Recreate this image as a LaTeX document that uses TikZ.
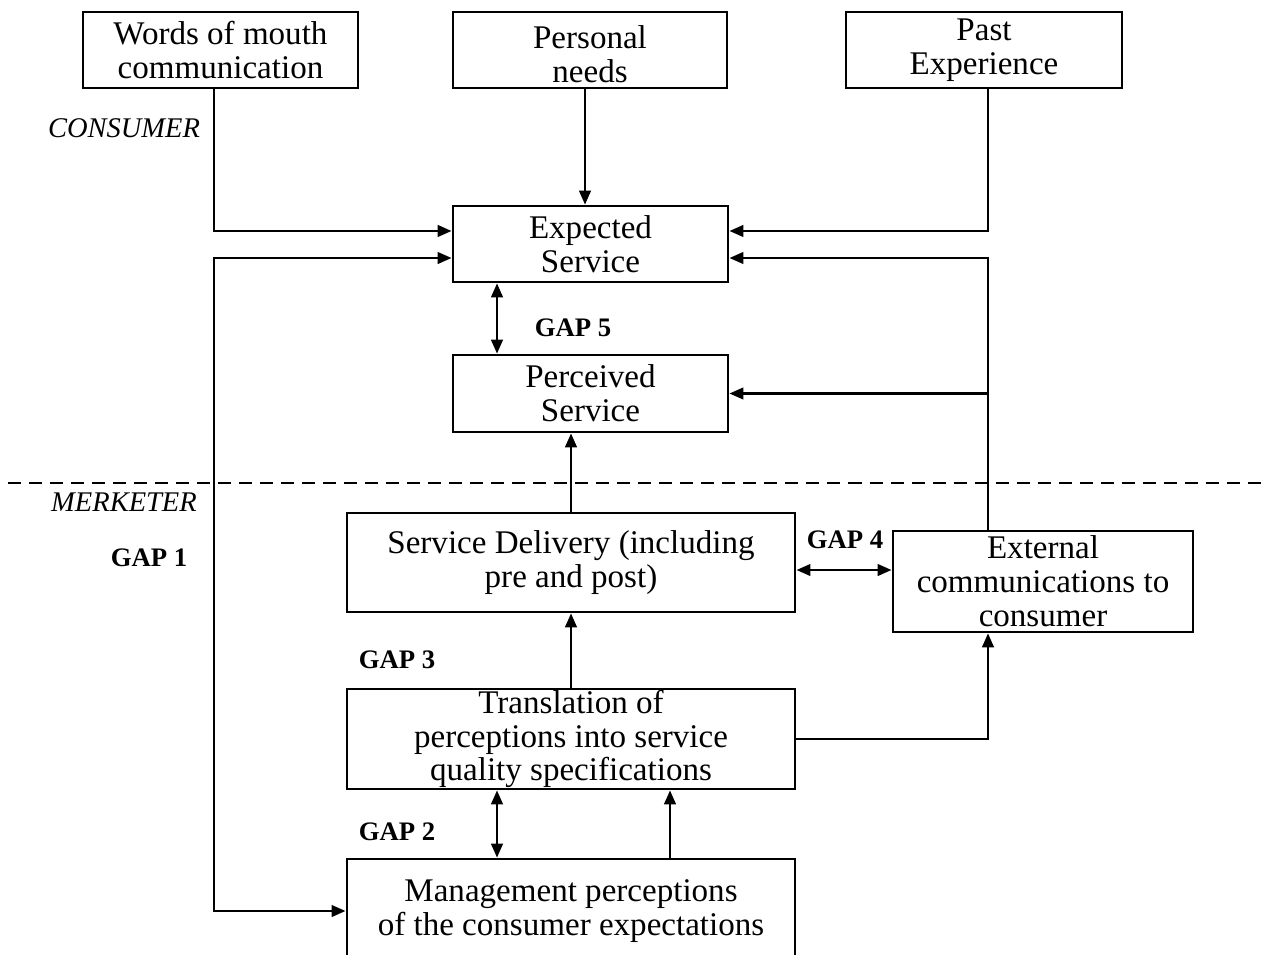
\documentclass[tikz,border=0pt]{standalone}
\usepackage{fontspec}
\setmainfont{Liberation Serif}
\usetikzlibrary{arrows.meta}
\begin{document}
\begin{tikzpicture}[x=0.01cm,y=-0.01cm,line width=0.75pt,
  >={Triangle[length=1.4mm,width=1.15mm]},
  font=\fontsize{9.4}{9.64}\selectfont,
  block/.style={draw,align=center,inner sep=0pt},
  gaplabel/.style={font=\fontsize{7.6}{8}\selectfont\bfseries},
  side/.style={font=\fontsize{8.1}{9}\selectfont\itshape}]
\useasboundingbox (0,0) rectangle (1264,955);
\node[block,minimum width=2.75cm,minimum height=0.76cm] (words) at (220.5,50) {Words of mouth\\communication};
\node[block,minimum width=2.74cm,minimum height=0.76cm] (personal) at (590,50) {\rule{0pt}{9pt}Personal\\needs};
\node[block,minimum width=2.76cm,minimum height=0.76cm] (past) at (984,50) {Past\\Experience};
\node[block,minimum width=2.75cm,minimum height=0.76cm] (expected) at (590.5,244) {Expected\\Service};
\node[block,minimum width=2.75cm,minimum height=0.77cm] (perceived) at (590.5,393.5) {Perceived\\Service};
\node[block,minimum width=4.48cm,minimum height=0.99cm] (delivery) at (571,562.5) {Service Delivery (including\\pre and post)};
\node[block,minimum width=3.00cm,minimum height=1.01cm] (external) at (1043,581.5) {External\\communications to\\consumer};
\node[block,minimum width=4.48cm,minimum height=1.00cm] (translation) at (571,739) {Translation of\\perceptions into service\\quality specifications};
\node[block,minimum width=4.48cm,minimum height=1.04cm] (management) at (571,911) {Management perceptions\\of the consumer expectations};
\node[side] (consumer) at (124,128) {CONSUMER};
\node[side] (marketer) at (124,502) {MERKETER};
\node[gaplabel] (gap1) at (149,558) {GAP 1};
\node[gaplabel] (gap5) at (573,328) {GAP 5};
\node[gaplabel] (gap4) at (845,540) {GAP 4};
\node[gaplabel] (gap3) at (397,660) {GAP 3};
\node[gaplabel] (gap2) at (397,832) {GAP 2};
\coordinate (lcol) at (214,0);
\coordinate (rcol) at (988,0);
\coordinate (gcol) at (497,0);
\coordinate (mcol) at (670,0);
\coordinate (pcol) at (585,0);
\coordinate (g4) at ([yshift=-0.75mm]delivery.east);
\draw[dash pattern=on 1.3mm off 0.8mm] (8,483) -- (1264,483);
\draw[->] (words.south -| lcol) |- ([yshift=1.3mm]expected.west);
\draw[->] (personal.south -| pcol) -- (expected.north -| pcol);
\draw[->] (past.south -| rcol) |- ([yshift=1.3mm]expected.east);
\draw[->] (external.north -| rcol) |- ([yshift=-1.4mm]expected.east);
\draw[->] (rcol |- perceived.east) -- (perceived.east);
\draw[<->] ([yshift=-1.4mm]expected.west) -| (management.west -| lcol) -- (management.west);
\draw[<->] (expected.south -| gcol) -- (perceived.north -| gcol);
\draw[->] (delivery.north) -- (perceived.south -| delivery.north);
\draw[<->] (g4) -- (g4 -| external.west);
\draw[->] (translation.north) -- (delivery.south);
\draw[->] (translation.east) -| (external.south -| rcol);
\draw[->] (management.north -| mcol) -- (translation.south -| mcol);
\draw[<->] (management.north -| gcol) -- (translation.south -| gcol);
\end{tikzpicture}
\end{document}
